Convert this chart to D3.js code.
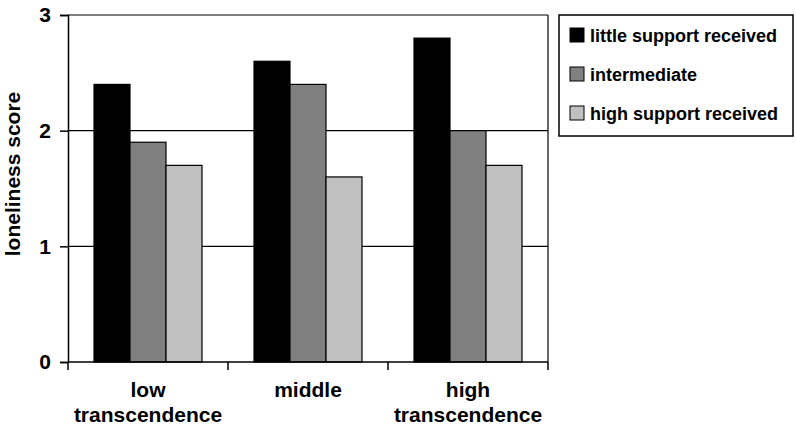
<!DOCTYPE html>
<html>
<head>
<meta charset="utf-8">
<script src="https://cdn.jsdelivr.net/npm/d3@7"></script>
<style>
  body { margin: 0; background: #fff; }
  text { font-family: "Liberation Sans", Arial, sans-serif; font-weight: bold; }
</style>
</head>
<body>
<div id="chart"></div>
<script>
// Loneliness score by transcendence and support received

const groups = ['low|transcendence', 'middle', 'high|transcendence'];
const series = ['little support received', 'intermediate', 'high support received'];
const littleSupport = [2.4, 2.6, 2.8];
const intermediate = [1.9, 2.4, 2.0];
const highSupport = [1.7, 1.6, 1.7];
const yTicks = [0, 1, 2, 3];

const COLORS = ['#000000', '#808080', '#c0c0c0'];

const width = 796, height = 428;
const margin = { left: 68, right: 248, top: 15, bottom: 66 };
const plotW = width - margin.left - margin.right;
const plotH = height - margin.top - margin.bottom;

const svg = d3.select('#chart')
    .append('svg')
    .attr('width', width)
    .attr('height', height);

const g = svg.append('g')
    .attr('transform', `translate(${margin.left},${margin.top})`);

const x = d3.scaleBand()
    .domain(groups)
    .range([0, plotW])
    .paddingInner(0.325)
    .paddingOuter(0.1625);

const xs = d3.scaleBand()
    .domain(series)
    .range([0, x.bandwidth()]);

const y = d3.scaleLinear()
    .domain([0, 3])
    .range([plotH, 0]);

// Gridlines
g.append('g')
    .selectAll('line')
    .data(yTicks.filter(d => d > 0))
    .join('line')
    .attr('x1', 0)
    .attr('x2', plotW)
    .attr('y1', d => y(d))
    .attr('y2', d => y(d))
    .attr('stroke', '#000')
    .attr('stroke-width', 1.2);

// Right border of plot area
g.append('line')
    .attr('x1', plotW).attr('x2', plotW)
    .attr('y1', 0).attr('y2', plotH)
    .attr('stroke', '#000')
    .attr('stroke-width', 1.2);

// Bars
const table = groups.map((grp, i) => ({
    group: grp,
    values: [littleSupport[i], intermediate[i], highSupport[i]]
}));

g.append('g')
    .selectAll('g')
    .data(table)
    .join('g')
    .attr('transform', d => `translate(${x(d.group)},0)`)
    .selectAll('rect')
    .data(d => d.values.map((v, j) => ({ key: series[j], value: v, color: COLORS[j] })))
    .join('rect')
    .attr('x', d => xs(d.key))
    .attr('y', d => y(d.value))
    .attr('width', xs.bandwidth())
    .attr('height', d => plotH - y(d.value))
    .attr('fill', d => d.color)
    .attr('stroke', '#000')
    .attr('stroke-width', 1.2);

// Y axis
const yAxis = g.append('g')
    .call(d3.axisLeft(y).tickValues(yTicks).tickSize(8).tickPadding(9).tickFormat(d3.format('d')));
yAxis.select('.domain').attr('stroke', '#000').attr('stroke-width', 1.5);
yAxis.selectAll('.tick line').attr('stroke-width', 1.5);
yAxis.selectAll('text')
    .attr('font-size', 21)
    .attr('fill', '#000')
    .style('font-family', '"Liberation Sans", Arial, sans-serif')
    .style('font-weight', 'bold');

// X axis: ticks at band boundaries
const xBounds = [0, 1, 2, 3].map(i => i * plotW / 3);
const xAxisG = g.append('g').attr('transform', `translate(0,${plotH})`);
xAxisG.append('line')
    .attr('x1', 0).attr('x2', plotW)
    .attr('stroke', '#000').attr('stroke-width', 1.5);
xAxisG.selectAll('line.tk')
    .data(xBounds)
    .join('line')
    .attr('class', 'tk')
    .attr('x1', d => d).attr('x2', d => d)
    .attr('y1', 0).attr('y2', 8)
    .attr('stroke', '#000').attr('stroke-width', 1.5);

xAxisG.selectAll('text.lbl')
    .data(groups)
    .join('text')
    .attr('class', 'lbl')
    .attr('text-anchor', 'middle')
    .attr('font-size', 21)
    .attr('x', d => x(d) + x.bandwidth() / 2)
    .each(function(d) {
        const lines = d.split('|');
        d3.select(this).selectAll('tspan')
            .data(lines)
            .join('tspan')
            .attr('x', x(d) + x.bandwidth() / 2)
            .attr('y', (l, i) => 35 + i * 25)
            .text(l => l);
    });

// Y axis title
svg.append('text')
    .attr('transform', 'translate(20,174) rotate(-90)')
    .attr('text-anchor', 'middle')
    .attr('font-size', 21)
    .text('loneliness score');

// Legend
const legend = svg.append('g').attr('transform', 'translate(559,15)');
legend.append('rect')
    .attr('width', 234)
    .attr('height', 121)
    .attr('fill', '#fff')
    .attr('stroke', '#000')
    .attr('stroke-width', 1.5);

const item = legend.selectAll('g.item')
    .data(series)
    .join('g')
    .attr('class', 'item')
    .attr('transform', (d, i) => `translate(11,${20 + i * 39})`);

item.append('rect')
    .attr('x', 0).attr('y', -7)
    .attr('width', 14).attr('height', 14)
    .attr('fill', (d, i) => COLORS[i])
    .attr('stroke', '#000')
    .attr('stroke-width', 1);

item.append('text')
    .attr('x', 20)
    .attr('y', 7)
    .attr('font-size', 18)
    .text(d => d);
</script>
</body>
</html>
